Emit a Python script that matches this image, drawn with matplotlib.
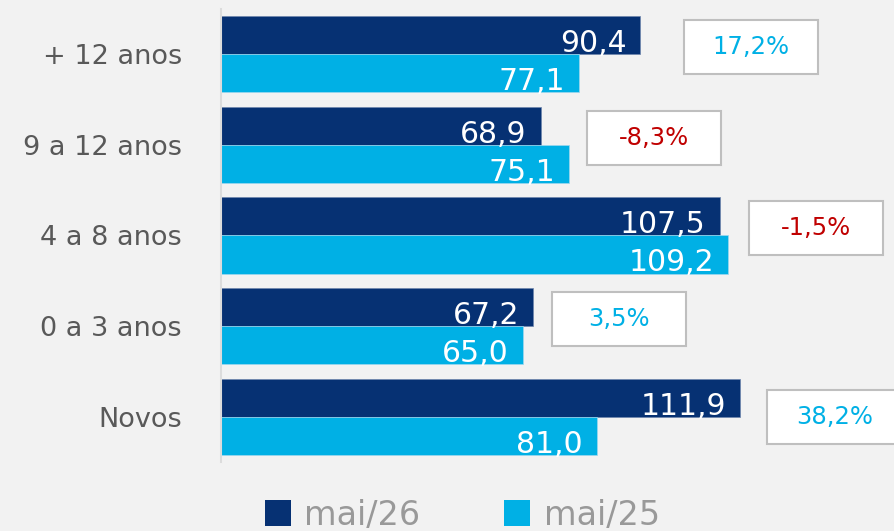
import matplotlib.pyplot as plt
from matplotlib.patches import Rectangle, Patch
import numpy as np

categories = ['+ 12 anos', '9 a 12 anos', '4 a 8 anos', '0 a 3 anos', 'Novos']
mai26 = [90.4, 68.9, 107.5, 67.2, 111.9]
mai25 = [77.1, 75.1, 109.2, 65.0, 81.0]
variacao = [17.2, -8.3, -1.5, 3.5, 38.2]
series_names = ['mai/26', 'mai/25']

dark = '#063173'
light = '#00b0e5'
red = '#c00000'
bg = '#f2f2f2'

plt.rcParams['font.family'] = ['DejaVu Sans']

fig = plt.figure(figsize=(8.94, 5.31), dpi=100, facecolor=bg)
ax = fig.add_axes([0.2472, 0.130, 0.7526, 0.853])
ax.set_facecolor(bg)

y = np.arange(len(categories))
h = 0.42
ax.barh(y - h / 2, mai26, height=h, color=dark, edgecolor='#6f86ad', linewidth=0.5)
ax.barh(y + h / 2, mai25, height=h, color=light, edgecolor='#9fd8ef', linewidth=0.5)

ax.set_xlim(0, 145)
ax.set_ylim(4.5, -0.5)

def fmt(v):
    return f'{v:.1f}'.replace('.', ',')

for i in range(len(categories)):
    ax.annotate(fmt(mai26[i]), (mai26[i], y[i]), xytext=(-10, 1.5), textcoords='offset points',
                ha='right', va='baseline', color='white', fontsize=21.5)
    ax.annotate(fmt(mai25[i]), (mai25[i], y[i] + h), xytext=(-10, 1.5), textcoords='offset points',
                ha='right', va='baseline', color='white', fontsize=21.5)

# boxes with the change in %
box_left = [99.8, 78.9, 113.8, 71.3, 117.7]
box_w = 28.9
box_h = 0.595
for i, v in enumerate(variacao):
    cy = y[i] - 0.08 if i < 4 else y[i]
    ax.add_patch(Rectangle((box_left[i], cy - box_h / 2), box_w, box_h, facecolor='white',
                           edgecolor='#bfbfbf', linewidth=1.5, clip_on=False, zorder=3))
    ax.text(box_left[i] + box_w / 2, cy, fmt(v) + '%', ha='center', va='center',
            color=light if v > 0 else red, fontsize=17.5, zorder=4, clip_on=False)

ax.set_yticks(y)
ax.set_yticklabels(categories, fontsize=19.5, color='#595959')
ax.tick_params(axis='y', length=0, pad=28)
ax.set_xticks([])
for s in ['top', 'right', 'bottom']:
    ax.spines[s].set_visible(False)
ax.spines['left'].set_color('#dcdcdc')
ax.spines['left'].set_linewidth(1.5)

handles = [Patch(facecolor=dark), Patch(facecolor=light)]
fig.legend(handles, series_names, loc='center', bbox_to_anchor=(0.517, 0.03), ncol=2,
           frameon=False, fontsize=24, labelcolor='#999999', handlelength=0.79,
           handleheight=0.79, handletextpad=0.4, columnspacing=2.5)

fig.savefig('out.png', dpi=100, facecolor=bg)
